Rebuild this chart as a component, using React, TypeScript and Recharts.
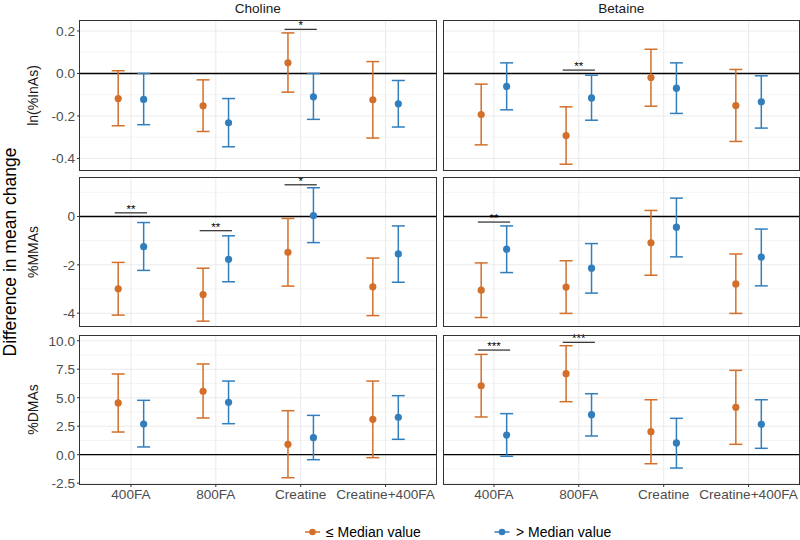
import React from 'react';
import { ScatterChart, Scatter, XAxis, YAxis, ErrorBar, ReferenceLine, ReferenceDot, CartesianGrid } from 'recharts';

// ---------- data ----------
const categories = ['400FA', '800FA', 'Creatine', 'Creatine+400FA'];
const facetCols = ['Choline', 'Betaine'];
const outcomes = ['ln(%InAs)', '%MMAs', '%DMAs'];
const groups = ['≤ Median value', '> Median value'];
const yTitle = 'Difference in mean change';

// [estimate, lower, upper] for each category
const cholineInAsLow = [[-0.118, -0.246, 0.013], [-0.152, -0.273, -0.030], [0.050, -0.088, 0.191], [-0.124, -0.304, 0.056]];
const cholineInAsHigh = [[-0.122, -0.241, 0.0], [-0.232, -0.345, -0.118], [-0.110, -0.216, 0.0], [-0.143, -0.252, -0.033]];
const betaineInAsLow = [[-0.193, -0.336, -0.050], [-0.292, -0.427, -0.157], [-0.019, -0.154, 0.114], [-0.151, -0.320, 0.019]];
const betaineInAsHigh = [[-0.061, -0.171, 0.050], [-0.115, -0.220, -0.008], [-0.069, -0.188, 0.050], [-0.133, -0.257, -0.011]];
const cholineMMAsLow = [[-2.99, -4.08, -1.90], [-3.23, -4.33, -2.14], [-1.48, -2.88, -0.08], [-2.91, -4.10, -1.72]];
const cholineMMAsHigh = [[-1.25, -2.23, -0.25], [-1.77, -2.70, -0.80], [0.04, -1.08, 1.19], [-1.55, -2.72, -0.39]];
const betaineMMAsLow = [[-3.05, -4.18, -1.92], [-2.92, -4.01, -1.83], [-1.09, -2.43, 0.25], [-2.79, -4.01, -1.55]];
const betaineMMAsHigh = [[-1.35, -2.32, -0.39], [-2.14, -3.17, -1.12], [-0.44, -1.67, 0.76], [-1.68, -2.87, -0.52]];
const cholineDMAsLow = [[4.54, 1.99, 7.08], [5.56, 3.22, 7.96], [0.91, -2.02, 3.86], [3.10, -0.26, 6.46]];
const cholineDMAsHigh = [[2.69, 0.68, 4.77], [4.60, 2.72, 6.46], [1.49, -0.44, 3.45], [3.28, 1.35, 5.18]];
const betaineDMAsLow = [[6.05, 3.31, 8.80], [7.11, 4.65, 9.56], [2.02, -0.79, 4.82], [4.16, 0.91, 7.40]];
const betaineDMAsHigh = [[1.73, -0.14, 3.60], [3.51, 1.64, 5.35], [1.03, -1.17, 3.19], [2.67, 0.56, 4.82]];

// significance brackets: [category index, y, label]
const cholineInAsSig = [[2, 0.208, '*']];
const betaineInAsSig = [[1, 0.016, '**']];
const cholineMMAsSig = [[0, 0.15, '**'], [1, -0.59, '**'], [2, 1.31, '*']];
const betaineMMAsSig = [[0, -0.23, '**']];
const cholineDMAsSig: any[] = [];
const betaineDMAsSig = [[0, 9.18, '***'], [1, 9.86, '***']];

// axis ticks
const inAsTicks = [-0.4, -0.2, 0, 0.2];
const inAsMinor = [-0.3, -0.1, 0.1];
const mmaTicks = [-4, -2, 0];
const mmaMinor = [-3, -1, 1];
const dmaTicks = [-2.5, 0, 2.5, 5, 7.5, 10];
const dmaMinor = [-1.25, 1.25, 3.75, 6.25, 8.75];

const inAsDomain = [-0.459, 0.247];
const mmaDomain = [-4.572, 1.593];
const dmaDomain = [-2.57, 10.5];

// ---------- style / layout ----------
const ORANGE = '#D26F2A';
const BLUE = '#327EBC';
const FONT = '"Liberation Sans", Arial, sans-serif';
const PANEL_W = 356.5;
const COL_LEFT = [79.5, 443];
const ROW_TOP = [20.5, 177.5, 335];
const ROW_H = [150, 149, 149];
const Y_AXIS_W = 50;
const X_AXIS_H = 30;
const TOP_PAD = 14;
const DODGE = 0.15;

const toPoints = (rows: number[][], off: number) =>
  rows.map((r, i) => ({ x: i + 1 + off, y: r[0], err: [r[0] - r[1], r[2] - r[0]] }));

const Dot = (color: string) => (p: any) => <circle cx={p.cx} cy={p.cy} r={3.6} fill={color} />;

function Panel(props: any) {
  const { low, high, sig, domain, ticks, minor, fmt, col, row } = props;
  const showY = col === 0;
  const showX = row === 2;
  const yW = showY ? Y_AXIS_W : 0;
  const xH = showX ? X_AXIS_H : 0;
  const left = COL_LEFT[col];
  const top = ROW_TOP[row];
  const h = ROW_H[row];
  return (
    <>
      <div style={{ position: 'absolute', left: left - yW, top: top - TOP_PAD }}>
        <ScatterChart width={yW + PANEL_W} height={h + xH + TOP_PAD} margin={{ top: TOP_PAD, right: 0, bottom: 0, left: 0 }}>
          <CartesianGrid horizontalValues={minor} vertical={false} stroke="#EDEDED" strokeWidth={0.6} />
          <CartesianGrid horizontalValues={ticks} verticalValues={[1, 2, 3, 4]} stroke="#EBEBEB" strokeWidth={1.07} />
          <XAxis
            type="number"
            dataKey="x"
            domain={[0.4, 4.6]}
            ticks={[1, 2, 3, 4]}
            interval={0}
            allowDataOverflow
            tickFormatter={(v: number) => categories[v - 1]}
            hide={!showX}
            height={xH || undefined}
            axisLine={false}
            tickLine={{ stroke: '#333333' }}
            tickSize={3}
            tickMargin={2}
            tick={{ fill: '#4D4D4D', fontSize: 13.6 }}
          />
          <YAxis
            type="number"
            dataKey="y"
            domain={domain}
            ticks={ticks}
            interval={0}
            allowDataOverflow
            tickFormatter={fmt}
            hide={!showY}
            width={yW || undefined}
            axisLine={false}
            tickLine={{ stroke: '#333333' }}
            tickSize={3}
            tickMargin={2}
            tick={{ fill: '#4D4D4D', fontSize: 13.6 }}
          />
          <ReferenceLine y={0} stroke="#000000" strokeWidth={1.3} />
          {sig.map((s: any, i: number) => (
            <ReferenceLine
              key={'b' + i}
              segment={[{ x: s[0] + 1 - DODGE - 0.04, y: s[1] }, { x: s[0] + 1 + DODGE + 0.04, y: s[1] }]}
              stroke="#000000"
              strokeWidth={1}
            />
          ))}
          {sig.map((s: any, i: number) => (
            <ReferenceDot
              key={'s' + i}
              x={s[0] + 1}
              y={s[1]}
              r={0}
              stroke="none"
              fill="none"
              label={{ value: s[2], position: 'top', offset: 0, fill: '#000000', fontSize: 11.5 }}
            />
          ))}
          <Scatter data={toPoints(low, -DODGE)} dataKey="y" fill={ORANGE} shape={Dot(ORANGE)} isAnimationActive={false}>
            <ErrorBar dataKey="err" direction="y" width={6.5} stroke={ORANGE} strokeWidth={1.5} />
          </Scatter>
          <Scatter data={toPoints(high, DODGE)} dataKey="y" fill={BLUE} shape={Dot(BLUE)} isAnimationActive={false}>
            <ErrorBar dataKey="err" direction="y" width={6.5} stroke={BLUE} strokeWidth={1.5} />
          </Scatter>
        </ScatterChart>
      </div>
      <div
        style={{
          position: 'absolute',
          left: left - 0.5,
          top: top - 0.5,
          width: PANEL_W + 1,
          height: h + 1,
          border: '1.1px solid #333333',
          boxSizing: 'border-box',
          pointerEvents: 'none',
        }}
      />
    </>
  );
}

const f1 = (v: number) => v.toFixed(1);
const f0 = (v: number) => String(v);

export default function App() {
  const rowMid = ROW_TOP.map((t, i) => t + ROW_H[i] / 2);
  return (
    <div style={{ position: 'absolute', left: 0, top: 0, width: 800, height: 540, background: '#fff', fontFamily: FONT }}>
      <svg width={800} height={540} style={{ position: 'absolute', left: 0, top: 0 }}>
        {facetCols.map((c, i) => (
          <text key={c} x={COL_LEFT[i] + PANEL_W / 2} y={8} textAnchor="middle" dominantBaseline="central" fontSize={13.6} fill="#1A1A1A" fontFamily={FONT}>
            {c}
          </text>
        ))}
        {outcomes.map((o, i) => (
          <text key={o} x={33} y={rowMid[i]} transform={`rotate(-90, 33, ${rowMid[i]})`} textAnchor="middle" dominantBaseline="central" fontSize={14} fill="#1A1A1A" fontFamily={FONT}>
            {o}
          </text>
        ))}
        <text x={10} y={252} transform="rotate(-90, 10, 252)" textAnchor="middle" dominantBaseline="central" fontSize={17.5} fill="#000" fontFamily={FONT}>
          {yTitle}
        </text>
        {/* legend */}
        <line x1={305} x2={320} y1={532} y2={532} stroke={ORANGE} strokeWidth={1.5} />
        <circle cx={312.5} cy={532} r={3.3} fill={ORANGE} />
        <text x={326} y={532} dominantBaseline="central" fontSize={14} fill="#000" fontFamily={FONT}>{groups[0]}</text>
        <line x1={494.5} x2={509.5} y1={532} y2={532} stroke={BLUE} strokeWidth={1.5} />
        <circle cx={502} cy={532} r={3.3} fill={BLUE} />
        <text x={516} y={532} dominantBaseline="central" fontSize={14} fill="#000" fontFamily={FONT}>{groups[1]}</text>
      </svg>
      <Panel low={cholineInAsLow} high={cholineInAsHigh} sig={cholineInAsSig} domain={inAsDomain} ticks={inAsTicks} minor={inAsMinor} fmt={f1} col={0} row={0} />
      <Panel low={betaineInAsLow} high={betaineInAsHigh} sig={betaineInAsSig} domain={inAsDomain} ticks={inAsTicks} minor={inAsMinor} fmt={f1} col={1} row={0} />
      <Panel low={cholineMMAsLow} high={cholineMMAsHigh} sig={cholineMMAsSig} domain={mmaDomain} ticks={mmaTicks} minor={mmaMinor} fmt={f0} col={0} row={1} />
      <Panel low={betaineMMAsLow} high={betaineMMAsHigh} sig={betaineMMAsSig} domain={mmaDomain} ticks={mmaTicks} minor={mmaMinor} fmt={f0} col={1} row={1} />
      <Panel low={cholineDMAsLow} high={cholineDMAsHigh} sig={cholineDMAsSig} domain={dmaDomain} ticks={dmaTicks} minor={dmaMinor} fmt={f1} col={0} row={2} />
      <Panel low={betaineDMAsLow} high={betaineDMAsHigh} sig={betaineDMAsSig} domain={dmaDomain} ticks={dmaTicks} minor={dmaMinor} fmt={f1} col={1} row={2} />
    </div>
  );
}
